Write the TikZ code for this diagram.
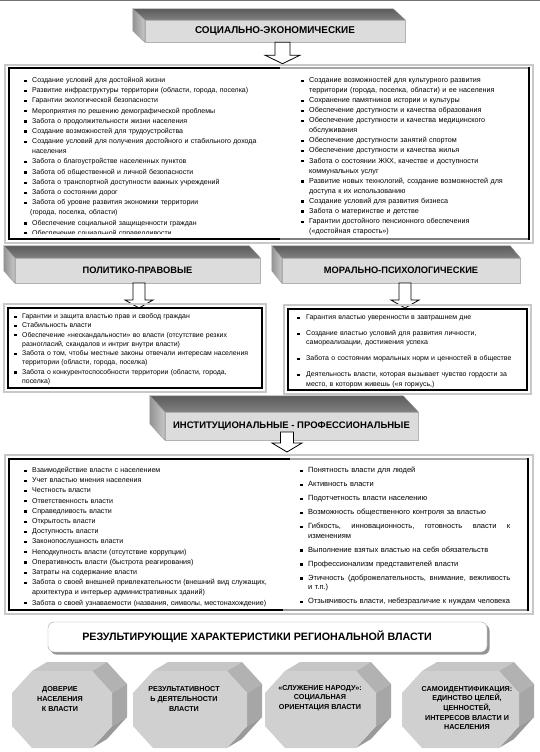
\documentclass[tikz,border=0pt]{standalone}
\usepackage{fontspec}
\setmainfont{Liberation Sans}
\usetikzlibrary{calc}
\definecolor{frontg}{HTML}{DCDCDC}
\definecolor{shad}{HTML}{C8C8C8}
\definecolor{octfront}{HTML}{D0D0D0}
\definecolor{octtop}{HTML}{C6C6C6}
\definecolor{octur}{HTML}{B2B2B2}
\definecolor{octr}{HTML}{A6A6A6}
\definecolor{octlr}{HTML}{9A9A9A}

\newcommand\bsq{\rule[0.6pt]{2.3pt}{2.3pt}}
\newlength\bind
\setlength\bind{8pt}
\newcommand\bi[1]{\par\noindent\llap{\makebox[\bind][l]{\bsq}}\strut#1}
\newcommand\nl{\hfil\break}
\newcommand\lstart[1]{\setlength\bind{#1}\leftskip=\bind}

\newcommand\octprism[5]{%
 \coordinate (#5-a) at ({#1+20},#2);
 \coordinate (#5-b) at ({#3-20},#2);
 \coordinate (#5-c) at (#3,{#2+22});
 \coordinate (#5-d) at (#3,{#4-22});
 \coordinate (#5-e) at ({#3-20},#4);
 \coordinate (#5-f) at ({#1+20},#4);
 \coordinate (#5-g) at (#1,{#4-22});
 \coordinate (#5-h) at (#1,{#2+22});
 \fill[octtop] (#5-a) -- (#5-b) -- ++(15,-9) -- ($(#5-a)+(15,-9)$) -- cycle;
 \fill[octur] (#5-b) -- (#5-c) -- ++(15,-9) -- ($(#5-b)+(15,-9)$) -- cycle;
 \fill[octr] (#5-c) -- (#5-d) -- ++(15,-9) -- ($(#5-c)+(15,-9)$) -- cycle;
 \fill[octlr] (#5-d) -- (#5-e) -- ++(15,-9) -- ($(#5-d)+(15,-9)$) -- cycle;
 \fill[octfront] (#5-a) -- (#5-b) -- (#5-c) -- (#5-d) -- (#5-e) -- (#5-f) -- (#5-g) -- (#5-h) -- cycle;
}

\tikzset{
  bannerfront/.style={fill=frontg, draw=black!30, line width=0.4pt, inner sep=0pt,
     font=\fontsize{9.3}{10}\bfseries\selectfont},
  topface/.style={top color=black!64, bottom color=black!50, draw=black!45, line width=0.4pt},
  sideface/.style={left color=black!42, right color=black!22, draw=black!40, line width=0.4pt},
  harrow/.style={fill=white, draw=black, line width=0.8pt, line join=miter},
  listbox/.style={anchor=north west, inner sep=0pt, text width=#1, align=left},
  blackframe/.style={draw=black, line width=1.8pt},
  grayframe/.style={draw=shad, line width=2.4pt},
  octtext/.style={align=center, font=\fontsize{7.2}{9.6}\bfseries\selectfont, inner sep=0pt},
}

\begin{document}
\begin{tikzpicture}[x=1pt,y=-1pt]
\useasboundingbox (0,0) rectangle (540,752);
\fill[white] (0,0) rectangle (540,752);
\draw[black!55, line width=1pt] (0,1) -- (540,1);

% ---------- social-economic banner ----------
\node[bannerfront, minimum width=260pt, minimum height=22pt, font=\fontsize{9.9}{11}\bfseries\selectfont] (se) at (275,31) {СОЦИАЛЬНО-ЭКОНОМИЧЕСКИЕ};
\path[topface] (se.north west) -- (se.north east) -- ++(-12,-11) -- ($(se.north west)+(-12,-11)$) -- cycle;
\path[sideface] (se.north west) -- ++(-12,-11) -- ++(0,22) -- (se.south west) -- cycle;
\coordinate (a1) at ($(se.south)+(7.5,0)$);
\draw[harrow] ($(a1)+(-7.5,0)$) -- ++(15,0) -- ++(0,13) -- ++(10,0) -- ++(-17.5,8.5) -- ++(-17.5,-8.5) -- ++(10,0) -- cycle;

% ---------- social-economic box ----------
\draw[grayframe] (5,65) rectangle (533,243);
\draw[blackframe] (280,68) -- (9,68) -- (9,239) -- (280,239);
\draw[draw=black!35, line width=1.8pt] (280,68) -- (529,68);
\draw[draw=black!50, line width=1.8pt] (280,239) -- (529,239);
\draw[blackframe] (529,67.1) -- (529,239.9);

\begin{scope}
\clip (10,69) rectangle (280,233.3);
\node[listbox=262pt, font=\fontsize{7}{10.2}\selectfont] (sl) at (24,72.0) {\setlength\parskip{0pt}\lstart{8pt}%
\bi{Создание условий для достойной жизни}
\bi{Развитие инфраструктуры территории (области, города, поселка)}
\bi{Гарантии экологической безопасности}
\bi{Мероприятия по решению демографической проблемы}
\bi{Забота о продолжительности жизни населения}
\bi{Создание возможностей для трудоустройства}
\bi{Создание условий для получения достойного и стабильного дохода\nl населения}
\bi{Забота о благоустройстве населенных пунктов}
\bi{Забота об общественной и личной безопасности}
\bi{Забота о транспортной доступности важных учреждений}
\bi{Забота о состоянии дорог}
\bi{Забота об уровне развития экономики территории\nl\hspace*{-2pt}(города, поселка, области)}
\bi{Обеспечение социальной защищенности граждан}
\bi{Обеспечение социальной справедливости}\par};
\end{scope}

\node[listbox=225pt, font=\fontsize{7.2}{10.07}\selectfont] (sr) at (301,72.2) {\setlength\parskip{0pt}\lstart{8pt}%
\bi{Создание возможностей для культурного развития\nl территории (города, поселка, области) и ее населения}
\bi{Сохранение памятников истории и культуры}
\bi{Обеспечение доступности и качества образования}
\bi{Обеспечение доступности и качества медицинского\nl обслуживания}
\bi{Обеспечение доступности занятий спортом}
\bi{Обеспечение доступности и качества жилья}
\bi{Забота о состоянии ЖКХ, качестве и доступности\nl коммунальных услуг}
\bi{Развитие новых технологий, создание возможностей для\nl доступа к их использованию}
\bi{Создание условий для развития бизнеса}
\bi{Забота о материнстве и детстве}
\bi{Гарантии достойного пенсионного обеспечения\nl («достойная старость»)}\par};

% ---------- political-legal banner ----------
\node[bannerfront, minimum width=245pt, minimum height=25pt] (pp) at (137.5,270.5) {ПОЛИТИКО-ПРАВОВЫЕ};
\path[topface] (pp.north west) -- (pp.north east) -- ++(-11,-12) -- ($(pp.north west)+(-11,-12)$) -- cycle;
\path[sideface] (pp.north west) -- ++(-11,-12) -- ++(0,25) -- (pp.south west) -- cycle;
\coordinate (a2) at (139,283);
\draw[harrow] ($(a2)+(-6,0)$) -- ++(12,0) -- ++(0,17) -- ++(8,0) -- ++(-14,8) -- ++(-14,-8) -- ++(8,0) -- cycle;

% ---------- moral-psychological banner ----------
\node[bannerfront, minimum width=238pt, minimum height=25pt] (mp) at (401,270.5) {МОРАЛЬНО-ПСИХОЛОГИЧЕСКИЕ};
\path[topface] (mp.north west) -- (mp.north east) -- ++(-10,-12) -- ($(mp.north west)+(-10,-12)$) -- cycle;
\path[sideface] (mp.north west) -- ++(-10,-12) -- ++(0,25) -- (mp.south west) -- cycle;
\coordinate (a3) at (405,283);
\draw[harrow] ($(a3)+(-6,0)$) -- ++(12,0) -- ++(0,17) -- ++(8,0) -- ++(-14,8) -- ++(-14,-8) -- ++(8,0) -- cycle;

% ---------- political box ----------
\draw[grayframe] (4,304) rectangle (266,392);
\draw[blackframe] (8,308) rectangle (262,388);
\node[listbox=250pt, font=\fontsize{6.9}{9.3}\selectfont] (pl) at (14,308.9) {\setlength\parskip{0pt}\lstart{8pt}%
\bi{Гарантии и защита властью прав и свобод граждан}
\bi{Стабильность власти}
\bi{Обеспечение «нескандальности» во власти (отсутствие резких\nl разногласий, скандалов и интриг внутри власти)}
\bi{Забота о том, чтобы местные законы отвечали интересам населения\nl территории (области, города, поселка)}
\bi{Забота о конкурентоспособности территории (области, города,\nl поселка)}\par};

% ---------- moral box ----------
\draw[grayframe] (284,305) rectangle (531,394);
\draw[blackframe] (288,309) rectangle (527,390);
\node[listbox=235pt, font=\fontsize{7}{9.5}\selectfont] (ml) at (297,303.2) {\setlength\parskip{6.5pt}\lstart{9pt}%
\bi{Гарантия властью уверенности в завтрашнем дне}
\bi{Создание властью условий для развития личности,\nl самореализации, достижения успеха}
\bi{Забота о состоянии моральных норм и ценностей в обществе}
\bi{Деятельность власти, которая вызывает чувство гордости за\nl место, в котором живешь («я горжусь,)}\par};

% ---------- institutional banner ----------
\node[bannerfront, minimum width=253pt, minimum height=28pt, font=\fontsize{9.5}{11}\bfseries\selectfont] (ip) at (291.5,426) {ИНСТИТУЦИОНАЛЬНЫЕ - ПРОФЕССИОНАЛЬНЫЕ};
\path[topface] (ip.north west) -- (ip.north east) -- ++(-15,-16) -- ($(ip.north west)+(-15,-16)$) -- cycle;
\path[sideface] (ip.north west) -- ++(-15,-16) -- ++(0,28) -- (ip.south west) -- cycle;
\coordinate (a4) at (287,432);
\draw[harrow] ($(a4)+(-6.5,0)$) -- ++(13,0) -- ++(0,11) -- ++(8.5,0) -- ++(-15,9) -- ++(-15,-9) -- ++(8.5,0) -- cycle;

% ---------- institutional box ----------
\draw[grayframe] (5,455) rectangle (533,614);
\draw[blackframe] (290,459) -- (9,459) -- (9,610) -- (283,610);
\draw[draw=black!35, line width=1.8pt] (290,459) -- (528,459);
\draw[draw=black!40, line width=1.8pt] (283,610) -- (528,610);
\draw[blackframe] (528,458.1) -- (528,610.9);

\node[listbox=262pt, font=\fontsize{7.1}{10.2}\selectfont] (il) at (24,462.0) {\setlength\parskip{0pt}\lstart{8pt}%
\bi{Взаимодействие власти с населением}
\bi{Учет властью мнения населения}
\bi{Честность власти}
\bi{Ответственность власти}
\bi{Справедливость власти}
\bi{Открытость власти}
\bi{Доступность власти}
\bi{Законопослушность власти}
\bi{Неподкупность власти (отсутствие коррупции)}
\bi{Оперативность власти (быстрота реагирования)}
\bi{Затраты на содержание власти}
\bi{Забота о своей внешней привлекательности (внешний вид служащих,\nl архитектура и интерьер административных зданий)}
\bi{Забота о своей узнаваемости (названия, символы, местонахождение)}\par};

\node[listbox=225pt, font=\fontsize{7.5}{9.2}\selectfont] (ir) at (300,458.1) {\setlength\parskip{4.9pt}\lstart{8pt}%
\bi{Понятность власти для людей}
\bi{Активность власти}
\bi{Подотчетность власти населению}
\bi{Возможность общественного контроля за властью}
\bi{\hbox to 202pt{Гибкость,\hfill инновационность,\hfill готовность\hfill власти\hfill к}\nl изменениям}
\bi{Выполнение взятых властью на себя обязательств}
\bi{Профессионализм представителей власти}
\bi{\hbox to 202pt{Этичность\hfill (доброжелательность,\hfill внимание,\hfill вежливость}\nl и т.п.)}
\bi{Отзывчивость власти, небезразличие к нуждам человека}\par};

% ---------- resulting characteristics ----------
\fill[black!42, rounded corners=6pt] (50.5,624.5) rectangle (489.5,654.5);
\node[fill=white, draw=black!35, rounded corners=6pt, minimum width=439pt, minimum height=30pt,
  inner sep=0pt] (res) at (267.5,637) {};
\node[inner sep=0pt, font=\fontsize{10.7}{12}\bfseries\selectfont] (restxt) at (257,636.5) {РЕЗУЛЬТИРУЮЩИЕ ХАРАКТЕРИСТИКИ РЕГИОНАЛЬНОЙ ВЛАСТИ};

% ---------- octagonal prisms ----------
\octprism{12}{671}{112}{748}{o1}
\octprism{133}{671}{247}{748}{o2}
\octprism{265}{671}{376}{748}{o3}
\octprism{402}{671}{519}{748}{o4}
\node[octtext] (t1) at (60,699) {ДОВЕРИЕ\\НАСЕЛЕНИЯ\\К ВЛАСТИ};
\node[octtext] (t2) at (184,699) {РЕЗУЛЬТАТИВНОСТ\\Ь ДЕЯТЕЛЬНОСТИ\\ВЛАСТИ};
\node[octtext] (t3) at (320,698) {«СЛУЖЕНИЕ НАРОДУ»:\\СОЦИАЛЬНАЯ\\ОРИЕНТАЦИЯ ВЛАСТИ};
\node[octtext] (t4) at (467,708) {САМОИДЕНТИФИКАЦИЯ:\\ЕДИНСТВО ЦЕЛЕЙ,\\ЦЕННОСТЕЙ,\\ИНТЕРЕСОВ ВЛАСТИ И\\НАСЕЛЕНИЯ};
\end{tikzpicture}
\end{document}
